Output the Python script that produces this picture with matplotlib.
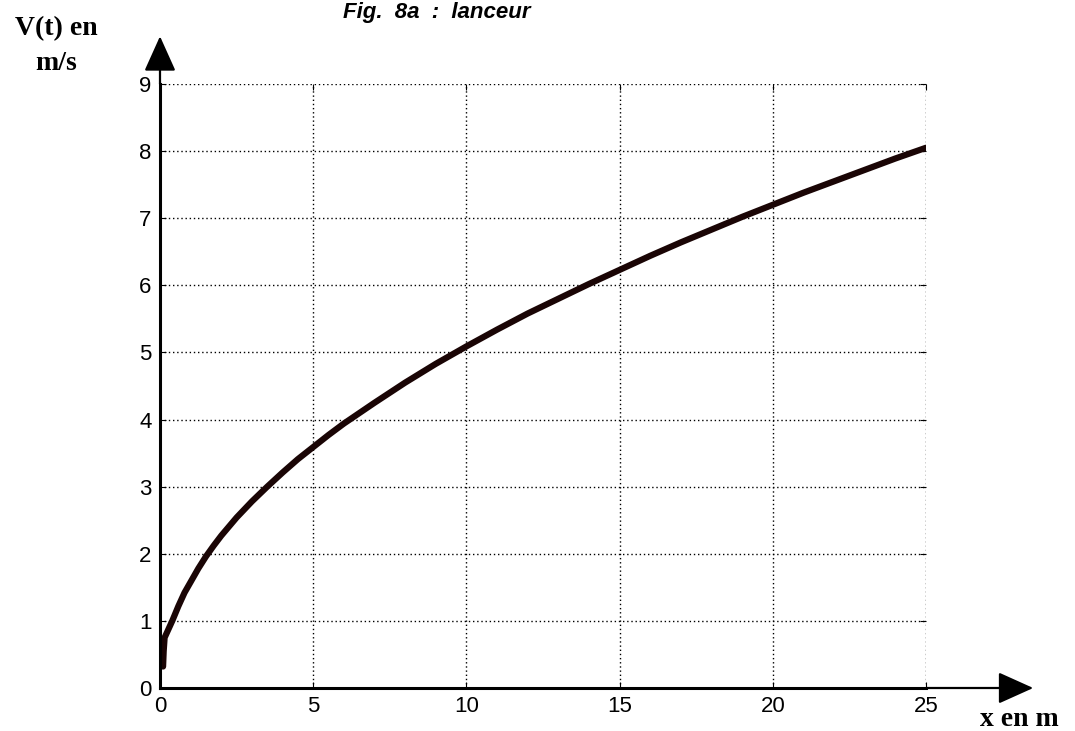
import numpy as np
import matplotlib.pyplot as plt

# distance x (m) and speed V (m/s)
x_m = [0.1, 0.12, 0.15, 0.25, 0.4, 0.6, 0.8, 1.0, 1.25, 1.5, 1.75, 2.0, 2.5, 3.0,
       3.5, 4.0, 4.5, 5.0, 5.5, 6.0, 7.0, 8.0, 9.0, 10.0, 11.0, 12.0, 13.0, 14.0,
       15.0, 16.0, 17.0, 18.0, 19.0, 20.0, 21.0, 22.0, 23.0, 24.0, 25.0]
v_ms = [0.32, 0.55, 0.75, 0.85, 1.0, 1.22, 1.42, 1.58, 1.78, 1.96, 2.12, 2.27,
        2.54, 2.78, 3.0, 3.21, 3.41, 3.59, 3.77, 3.94, 4.25, 4.55, 4.83, 5.09,
        5.34, 5.58, 5.8, 6.02, 6.23, 6.44, 6.64, 6.83, 7.02, 7.2, 7.38, 7.55,
        7.72, 7.89, 8.05]
x_ticks = [0, 5, 10, 15, 20, 25]
y_ticks = list(range(10))

fig = plt.figure(figsize=(10.75, 7.31), dpi=100)
ax = fig.add_axes([160 / 1075, 1 - 688 / 731, 766 / 1075, 604 / 731])

ax.plot(x_m, v_ms, color='#1a0505', lw=4.5, solid_capstyle='round',
        solid_joinstyle='round')

ax.set_xlim(0, 25)
ax.set_ylim(0, 9)
ax.set_xticks(x_ticks)
ax.set_yticks(y_ticks)
ax.grid(True, color='black', linestyle=(0, (1, 2)), lw=1)
ax.tick_params(direction='in', length=4, top=True, right=True, labelsize=16, pad=6)
for lab in ax.get_xticklabels() + ax.get_yticklabels():
    lab.set_fontfamily('Liberation Sans')

for s in ['top', 'right']:
    ax.spines[s].set_visible(False)
for s in ['left', 'bottom']:
    ax.spines[s].set_linewidth(2.2)

# axis arrows
ax.annotate('', xy=(1.14, 0), xytext=(1, 0), xycoords='axes fraction',
            arrowprops=dict(arrowstyle='-|>,head_length=1.0,head_width=0.45',
                            mutation_scale=22, lw=1.6, color='black', shrinkA=0, shrinkB=0))
ax.annotate('', xy=(0, 1.079), xytext=(0, 1), xycoords='axes fraction',
            arrowprops=dict(arrowstyle='-|>,head_length=1.0,head_width=0.45',
                            mutation_scale=22, lw=1.6, color='black', shrinkA=0, shrinkB=0))

fig.text(437 / 1075, 1 - 2 / 731, 'Fig.  8a  :  lanceur', ha='center', va='top',
         fontsize=16, fontweight='bold', fontstyle='italic', family='Liberation Sans')
fig.text(56 / 1075, 1 - 46 / 731, 'V(t) en\nm/s', ha='center', va='center',
         fontsize=20, fontweight='bold', family='Liberation Serif', linespacing=1.5)
fig.text(1019 / 1075, 1 - 719 / 731, 'x en m', ha='center', va='center',
         fontsize=20, fontweight='bold', family='Liberation Serif')

fig.savefig('out.png', dpi=100)
